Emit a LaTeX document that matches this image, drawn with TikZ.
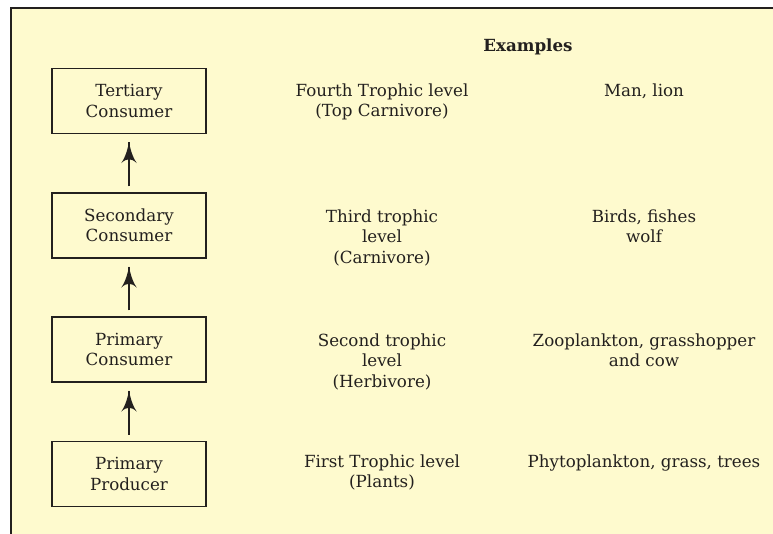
\documentclass[tikz,border=0pt]{standalone}
\usepackage{fontspec}
\setmainfont{DejaVu Serif}
\usepackage{tikz}
\usetikzlibrary{arrows}
\usetikzlibrary{decorations.markings}
\usetikzlibrary{positioning}
\definecolor{cream}{RGB}{254,250,206}
\definecolor{ink}{RGB}{35,32,30}
\tikzset{->/.style = {decoration={markings,
                                  mark=at position 1 with {\arrow[scale=3]{latex'}}},
                      postaction={decorate}}}
\tikzset{level/.style = {draw = ink, line width = 1.4pt, minimum width = 154, minimum height = 65,
                         inner sep = 0, align = center}}
\tikzset{info/.style = {anchor = north, inner sep = 0, align = center}}

\begin{document}
\begin{tikzpicture}[x = 1pt, y = -1pt, font = \fontsize{16.7}{20.5}\selectfont, color = ink]
      \useasboundingbox (0, 0) rectangle (773, 534);
      \fill [cream] (11, 8) rectangle (773, 534);
      \draw [line width = 1.4pt] (11, 534) -- (11, 8) -- (773, 8);
      \node [font = \fontsize{16.7}{20.5}\selectfont\bfseries, anchor = base] (examples) at (528, 52) {Examples};
      % the four levels
      \node [level] (tc) at (129, 101) {Tertiary\\Consumer};
      \node [level] (sc) at (129, 225.5) {Secondary\\Consumer};
      \node [level] (pc) at (129, 349.5) {Primary\\Consumer};
      \node [level] (pp) at (129, 474) {Primary\\Producer};
      \coordinate (tcin) at ([yshift = -8] tc.south);
      \coordinate (scout) at ([yshift = 6] sc.north);
      \coordinate (scin) at ([yshift = -8] sc.south);
      \coordinate (pcout) at ([yshift = 6] pc.north);
      \coordinate (pcin) at ([yshift = -8] pc.south);
      \coordinate (ppout) at ([yshift = 6] pp.north);
      \draw [->, line width = 1.4pt] (scout) -- (tcin);
      \draw [->, line width = 1.4pt] (pcout) -- (scin);
      \draw [->, line width = 1.4pt] (ppout) -- (pcin);
      % trophic levels
      \node [info] (tcl) at (382, 83.3) {Fourth Trophic level\\(Top Carnivore)};
      \node [info] (scl) at (382, 209.3) {Third trophic\\level\\(Carnivore)};
      \node [info] (pcl) at (382, 333.3) {Second trophic\\level\\(Herbivore)};
      \node [info] (ppl) at (382, 454.3) {First Trophic level\\(Plants)};
      % examples
      \node [info] (tce) at (644, 83.3) {Man, lion};
      \node [info] (sce) at (644, 209.3) {Birds, fishes\\wolf};
      \node [info] (pce) at (644, 333.3) {Zooplankton, grasshopper\\and cow};
      \node [info] (ppe) at (644, 454.3) {Phytoplankton, grass, trees};
    \end{tikzpicture}
\end{document}
